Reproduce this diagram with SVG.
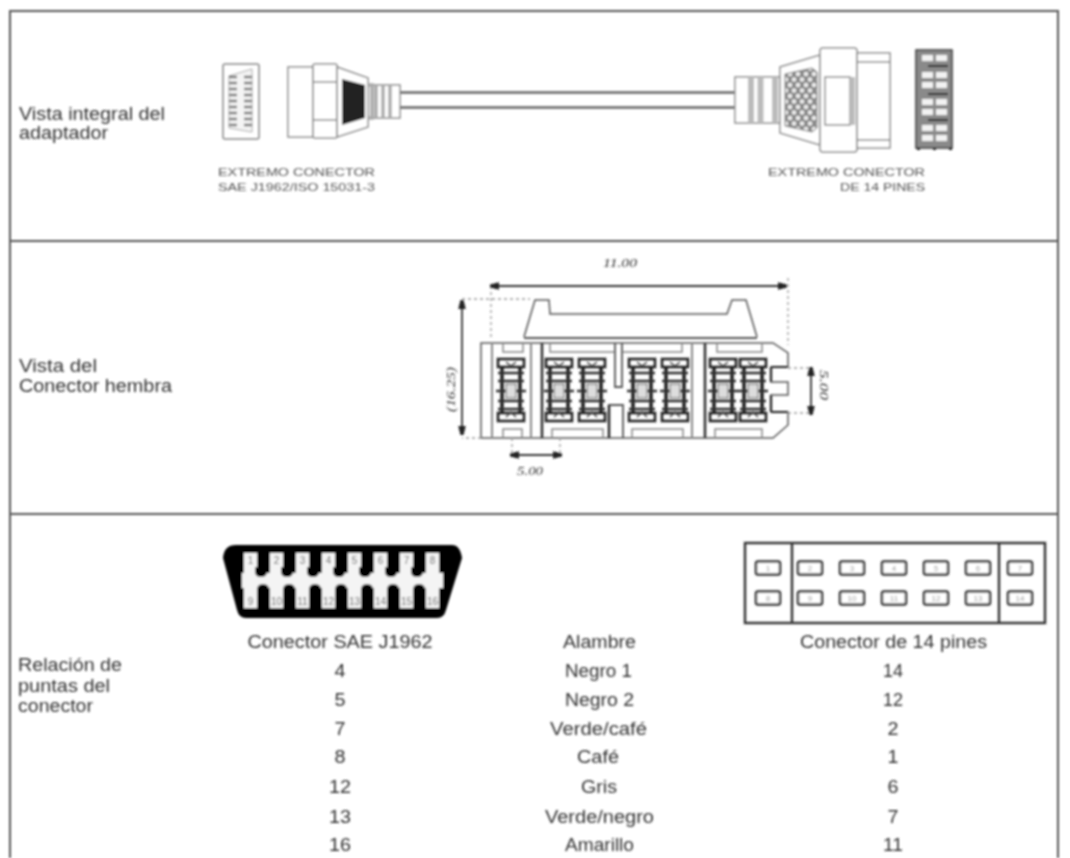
<svg xmlns="http://www.w3.org/2000/svg" xmlns:xlink="http://www.w3.org/1999/xlink" width="1070" height="858" viewBox="0 0 1070 858">
<style>
text{font-family:"Liberation Sans",Arial,sans-serif;fill:#333}
.lb{font-size:17.500px}
.tb{font-size:17.500px;text-anchor:middle}
.sm{font-size:11.500px;fill:#555}
.dim{font-family:"Liberation Serif",serif;font-size:12px;font-style:italic;fill:#333}
.l{fill:none;stroke:#555;stroke-width:1.5}
.g{fill:none;stroke:#888;stroke-width:1.5}
.d{fill:none;stroke:#333;stroke-width:1.8}
.dot{fill:none;stroke:#999;stroke-width:1.3;stroke-dasharray:3 3}
.frame{fill:none;stroke:#555;stroke-width:2}
.w{fill:#fff;stroke:#888;stroke-width:1.5}
.pin{font-size:10px;text-anchor:middle;fill:#666}
.pn{font-size:8px;text-anchor:middle;fill:#999}
</style>
<defs>
<filter id="b" x="0" y="0" width="1070" height="858" filterUnits="userSpaceOnUse"><feGaussianBlur stdDeviation="0.9"/></filter>
<marker id="ar" viewBox="0 0 10 10" refX="8" refY="5" markerWidth="5" markerHeight="5" orient="auto-start-reverse"><path d="M0 1.500L10 4V6L0 8.500Z" fill="#222" stroke="#222" stroke-width="1.500"/></marker>
<pattern id="hex" width="8" height="11" patternUnits="userSpaceOnUse"><rect width="8" height="11" fill="#888"/><circle cx="2" cy="2.500" r="2.300" fill="#eee"/><circle cx="6" cy="8" r="2.300" fill="#eee"/></pattern>
<g id="cell">
<rect x="-13" y="0" width="26" height="8" fill="none" stroke="#222" stroke-width="2.600"/>
<path d="M-5 3L0 7L5 3" fill="none" stroke="#444" stroke-width="1.500"/>
<path d="M-9 8V54M9 8V54" stroke="#222" stroke-width="3.500" fill="none"/>
<path d="M-13 14H13M-13 22H13M-15 32H15M-13 42H13M-13 50H13" stroke="#333" stroke-width="2.500" fill="none"/>
<rect x="-5" y="25" width="10" height="14" fill="#ddd" stroke="#555"/>
<rect x="-13" y="54" width="26" height="8" fill="none" stroke="#222" stroke-width="2.600"/>
<path d="M-5 58L0 53L5 58" fill="none" stroke="#444" stroke-width="1.500"/>
</g>
<g id="topbump"><path d="M-6 567H6V571Q6 577 0 577Q-6 577-6 571Z" fill="#000"/></g>
<g id="botbump"><path d="M-6 595H6V590Q6 584 0 584Q-6 584-6 590Z" fill="#000"/></g>
<rect id="p14" x="-12" y="-6.500" width="24" height="13" rx="2" fill="#fff" stroke="#333" stroke-width="2.500"/>
<rect id="wp" x="-5.500" y="-3" width="11" height="6" fill="#f2f2f2"/>
</defs>
<rect width="1070" height="858" fill="#fff"/>
<g filter="url(#b)">
<g id="frame">
<path class="frame" d="M10 858V11H1058V858"/>
<path class="frame" d="M10 241H1058M10 514H1058"/>
</g>
<g id="section-adapter">
<text class="lb" x="19" y="120" textLength="146" lengthAdjust="spacingAndGlyphs">Vista integral del</text>
<text class="lb" x="19" y="139" textLength="89" lengthAdjust="spacingAndGlyphs">adaptador</text>
<g id="left-face">
<rect class="g" x="223" y="64" width="36" height="75" rx="2"/>
<path d="M229 76L252 69V132L229 128Z" fill="#f4f4f4" stroke="#aaa"/>
<path d="M229 77h8M229 83h8M229 89h8M229 95h8M229 101h8M229 107h8M229 113h8M229 119h8M229 125h8M244 77h8M244 83h8M244 89h8M244 95h8M244 101h8M244 107h8M244 113h8M244 119h8M244 125h8" stroke="#777" stroke-width="2.500" fill="none"/>
</g>
<g id="left-plug">
<rect class="w" x="288" y="67" width="25" height="70"/>
<rect class="w" x="313" y="64" width="24" height="74" rx="2"/>
<path class="g" d="M313 82H337M313 120H337"/>
<path class="w" d="M337 67L368 78V127L337 137Z"/>
<path d="M342 79L365 85V118L342 125Z" fill="#222"/>
<rect class="w" x="372" y="85" width="28" height="33"/>
<path d="M368 85H372V118H368M376 85V118M383 85V118M390 85V118" stroke="#aaa" stroke-width="3.500" fill="none"/>
</g>
<g id="cable">
<path d="M400 92.500H735M400 107.500H735" stroke="#666" stroke-width="2.500" fill="none"/>
</g>
<g id="right-plug">
<rect class="w" x="735" y="77" width="45" height="46"/>
<path d="M751 77V123M760.500 77V123M775 77V123" stroke="#bbb" stroke-width="6" fill="none"/>
<path class="w" d="M780 67L820 55V145L780 133Z"/>
<path d="M785 74L812 68L817 72V128L812 132L785 126Z" fill="url(#hex)" stroke="#777"/>
<rect class="w" x="820" y="48" width="37" height="104" rx="3"/>
<rect class="w" x="825" y="77" width="25" height="48"/>
<path d="M850 77H855V125H850Z" fill="#bbb"/>
<rect class="w" x="857" y="53" width="33" height="95"/>
<path class="g" d="M857 62H890M857 140H890"/>
</g>
<g id="right-face">
<rect x="916" y="50" width="36" height="98" fill="#8a8a8a" stroke="#333" stroke-width="1.500"/>
<path d="M928 66H948M928 94H948M928 120H948" stroke="#111" stroke-width="2"/>
<path d="M917 149h3M933 149h3M949 149h3" stroke="#222" stroke-width="2"/>
<use xlink:href="#wp" x="927.500" y="58"/><use xlink:href="#wp" x="941.500" y="58"/>
<use xlink:href="#wp" x="927.500" y="75"/><use xlink:href="#wp" x="941.500" y="75"/>
<use xlink:href="#wp" x="927.500" y="85"/><use xlink:href="#wp" x="941.500" y="85"/>
<use xlink:href="#wp" x="927.500" y="102"/><use xlink:href="#wp" x="941.500" y="102"/>
<use xlink:href="#wp" x="927.500" y="112"/><use xlink:href="#wp" x="941.500" y="112"/>
<use xlink:href="#wp" x="927.500" y="128"/><use xlink:href="#wp" x="941.500" y="128"/>
<use xlink:href="#wp" x="927.500" y="138"/><use xlink:href="#wp" x="941.500" y="138"/>
</g>
<text class="sm" x="218" y="176" textLength="157" lengthAdjust="spacingAndGlyphs">EXTREMO CONECTOR</text>
<text class="sm" x="218" y="191" textLength="157" lengthAdjust="spacingAndGlyphs">SAE J1962/ISO 15031-3</text>
<text class="sm" x="768" y="176" textLength="157" lengthAdjust="spacingAndGlyphs">EXTREMO CONECTOR</text>
<text class="sm" x="840" y="191" textLength="85" lengthAdjust="spacingAndGlyphs">DE 14 PINES</text>
</g>
<g id="section-female">
<text class="lb" x="19" y="372" textLength="78" lengthAdjust="spacingAndGlyphs">Vista del</text>
<text class="lb" x="19" y="392" textLength="153" lengthAdjust="spacingAndGlyphs">Conector hembra</text>
<g id="female-body">
<path class="l" d="M524 337L535 300H549L550 314H727L732 300H746L757 337"/>
<path d="M524 338H757" stroke="#555" stroke-width="2"/>
<path class="l" d="M481 343H773L788 353V367H771V382H788V395H771V412H788V425L773 438H481Z"/>
<path d="M771 367V382M771 395V412M771 367H788M771 412H788" stroke="#222" stroke-width="2.200" fill="none"/>
<path d="M492 343V438M531 343V438M692 343V438" stroke="#888" stroke-width="2" fill="none"/>
<path d="M542 343V438M705 343V438" stroke="#333" stroke-width="2.500" fill="none"/>
<path class="g" d="M503 343V352H523V343M550 343V352H615M622 352H682V343M717 343V352H762V343M503 438V429H522V438M552 438V429H603V438M632 438V429H683V438M715 438V429H762V438"/>
<path d="M615 343V387H622V343" fill="none" stroke="#555" stroke-width="1.800"/>
<path d="M609 438V405H623V438" fill="none" stroke="#555" stroke-width="1.800"/>
<path d="M609 438V405" stroke="#222" stroke-width="2.500"/>
<use xlink:href="#cell" x="511" y="359"/>
<use xlink:href="#cell" x="559" y="359"/>
<use xlink:href="#cell" x="592" y="359"/>
<use xlink:href="#cell" x="642" y="359"/>
<use xlink:href="#cell" x="675" y="359"/>
<use xlink:href="#cell" x="723" y="359"/>
<use xlink:href="#cell" x="753" y="359"/>
</g>
<g id="dimensions">
<path class="dot" d="M462 299H530M491 286V337M788 278V345M481 438H462M512 438V454M560 438V454M788 368H812M788 413H812"/>
<path class="d" d="M492 286H785" marker-start="url(#ar)" marker-end="url(#ar)"/>
<path class="d" stroke-width="2.500" d="M462 302V433" marker-start="url(#ar)" marker-end="url(#ar)"/>
<path class="d" d="M512 455H560" marker-start="url(#ar)" marker-end="url(#ar)"/>
<path class="d" d="M811 369V413" marker-start="url(#ar)" marker-end="url(#ar)"/>
<text class="dim" x="603" y="267" textLength="34" lengthAdjust="spacingAndGlyphs">11.00</text>
<text class="dim" x="517" y="475" textLength="26" lengthAdjust="spacingAndGlyphs">5.00</text>
<text class="dim" transform="translate(455 412) rotate(-90)" textLength="45" lengthAdjust="spacingAndGlyphs">(16.25)</text>
<text class="dim" transform="translate(820 370) rotate(90)" textLength="30" lengthAdjust="spacingAndGlyphs">5.00</text>
</g>
</g>
<g id="section-pins">
<text class="lb" x="18" y="671" textLength="104" lengthAdjust="spacingAndGlyphs">Relación de</text>
<text class="lb" x="18" y="692" textLength="92" lengthAdjust="spacingAndGlyphs">puntas del</text>
<text class="lb" x="18" y="712" textLength="75" lengthAdjust="spacingAndGlyphs">conector</text>
<g id="sae-connector">
<path d="M236 545H452Q460 545 462 558L446 610Q444 618 437 618H246Q239 618 237 610L223 558Q224 545 236 545Z" fill="#000"/>
<path d="M242 573H443V588H242ZM244 553H257V573H244ZM270 553H283V573H270ZM296 553H309V573H296ZM322 553H335V573H322ZM348 553H361V573H348ZM374 553H387V573H374ZM400 553H413V573H400ZM426 553H439V573H426ZM244 588H257V608H244ZM270 588H283V608H270ZM296 588H309V608H296ZM322 588H335V608H322ZM348 588H361V608H348ZM374 588H387V608H374ZM400 588H413V608H400ZM426 588H439V608H426Z" fill="#f4f4f4"/>
<use xlink:href="#topbump" x="261"/><use xlink:href="#topbump" x="287"/><use xlink:href="#topbump" x="313"/><use xlink:href="#topbump" x="339"/><use xlink:href="#topbump" x="365"/><use xlink:href="#topbump" x="391"/><use xlink:href="#topbump" x="417"/>
<use xlink:href="#botbump" x="263"/><use xlink:href="#botbump" x="289"/><use xlink:href="#botbump" x="315"/><use xlink:href="#botbump" x="341"/><use xlink:href="#botbump" x="367"/><use xlink:href="#botbump" x="393"/><use xlink:href="#botbump" x="419"/>
<text class="pin" x="250.500" y="564">1</text><text class="pin" x="276.500" y="564">2</text><text class="pin" x="302.500" y="564">3</text><text class="pin" x="328.500" y="564">4</text><text class="pin" x="354.500" y="564">5</text><text class="pin" x="380.500" y="564">6</text><text class="pin" x="406.500" y="564">7</text><text class="pin" x="432.500" y="564">8</text>
<text class="pin" x="250.500" y="605">9</text><text class="pin" x="276.500" y="605">10</text><text class="pin" x="302.500" y="605">11</text><text class="pin" x="328.500" y="605">12</text><text class="pin" x="354.500" y="605">13</text><text class="pin" x="380.500" y="605">14</text><text class="pin" x="406.500" y="605">15</text><text class="pin" x="432.500" y="605">16</text>
</g>
<g id="pin14-connector">
<rect x="745" y="543" width="300" height="80" fill="none" stroke="#333" stroke-width="2.400"/>
<path d="M792 543V623M999 543V623" stroke="#333" stroke-width="2.400"/>
<use xlink:href="#p14" x="768" y="568"/><use xlink:href="#p14" x="810" y="568"/><use xlink:href="#p14" x="852" y="568"/><use xlink:href="#p14" x="894" y="568"/><use xlink:href="#p14" x="936" y="568"/><use xlink:href="#p14" x="978" y="568"/><use xlink:href="#p14" x="1020" y="568"/>
<use xlink:href="#p14" x="768" y="598"/><use xlink:href="#p14" x="810" y="598"/><use xlink:href="#p14" x="852" y="598"/><use xlink:href="#p14" x="894" y="598"/><use xlink:href="#p14" x="936" y="598"/><use xlink:href="#p14" x="978" y="598"/><use xlink:href="#p14" x="1020" y="598"/>
<text class="pn" x="768" y="571">1</text><text class="pn" x="810" y="571">2</text><text class="pn" x="852" y="571">3</text><text class="pn" x="894" y="571">4</text><text class="pn" x="936" y="571">5</text><text class="pn" x="978" y="571">6</text><text class="pn" x="1020" y="571">7</text>
<text class="pn" x="768" y="601">8</text><text class="pn" x="810" y="601">9</text><text class="pn" x="852" y="601">10</text><text class="pn" x="894" y="601">11</text><text class="pn" x="936" y="601">12</text><text class="pn" x="978" y="601">13</text><text class="pn" x="1020" y="601">14</text>
</g>
<g id="pin-table">
<text class="tb" x="340" y="648" textLength="185" lengthAdjust="spacingAndGlyphs">Conector SAE J1962</text><text class="tb" x="599.500" y="648" textLength="73" lengthAdjust="spacingAndGlyphs">Alambre</text><text class="tb" x="893.500" y="648" textLength="187" lengthAdjust="spacingAndGlyphs">Conector de 14 pines</text>
<text class="tb" x="340" y="677" textLength="11" lengthAdjust="spacingAndGlyphs">4</text><text class="tb" x="598.500" y="677" textLength="67" lengthAdjust="spacingAndGlyphs">Negro 1</text><text class="tb" x="893" y="677" textLength="20" lengthAdjust="spacingAndGlyphs">14</text>
<text class="tb" x="340" y="706" textLength="11" lengthAdjust="spacingAndGlyphs">5</text><text class="tb" x="599.500" y="706" textLength="69" lengthAdjust="spacingAndGlyphs">Negro 2</text><text class="tb" x="893" y="706" textLength="20" lengthAdjust="spacingAndGlyphs">12</text>
<text class="tb" x="340" y="735" textLength="11" lengthAdjust="spacingAndGlyphs">7</text><text class="tb" x="598.500" y="735" textLength="97" lengthAdjust="spacingAndGlyphs">Verde/café</text><text class="tb" x="893" y="735" textLength="11" lengthAdjust="spacingAndGlyphs">2</text>
<text class="tb" x="340" y="763" textLength="11" lengthAdjust="spacingAndGlyphs">8</text><text class="tb" x="598" y="763" textLength="42" lengthAdjust="spacingAndGlyphs">Café</text><text class="tb" x="893" y="763" textLength="11" lengthAdjust="spacingAndGlyphs">1</text>
<text class="tb" x="340" y="793" textLength="22" lengthAdjust="spacingAndGlyphs">12</text><text class="tb" x="599" y="793" textLength="36" lengthAdjust="spacingAndGlyphs">Gris</text><text class="tb" x="893" y="793" textLength="11" lengthAdjust="spacingAndGlyphs">6</text>
<text class="tb" x="340" y="823" textLength="22" lengthAdjust="spacingAndGlyphs">13</text><text class="tb" x="599.500" y="823" textLength="109" lengthAdjust="spacingAndGlyphs">Verde/negro</text><text class="tb" x="893" y="823" textLength="11" lengthAdjust="spacingAndGlyphs">7</text>
<text class="tb" x="340" y="851" textLength="22" lengthAdjust="spacingAndGlyphs">16</text><text class="tb" x="599.500" y="851" textLength="69" lengthAdjust="spacingAndGlyphs">Amarillo</text><text class="tb" x="893" y="851" textLength="20" lengthAdjust="spacingAndGlyphs">11</text>
</g>
</g>
</g>
</svg>
